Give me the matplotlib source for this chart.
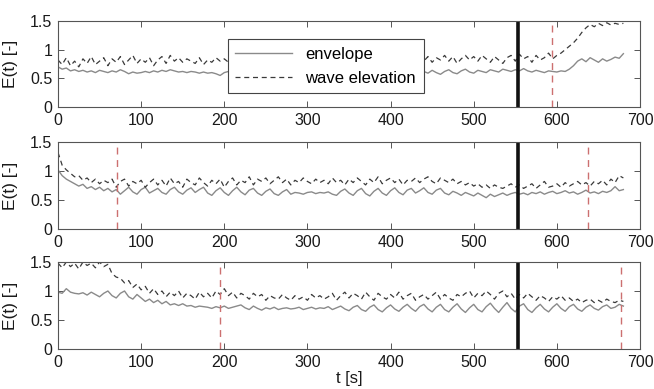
import numpy as np
import matplotlib
matplotlib.use("Agg")
import matplotlib.pyplot as plt

plt.rcParams['font.family'] = ['Liberation Sans', 'DejaVu Sans']

DT = 5

env1 = [0.70,0.66,0.68,0.63,0.65, 0.62,0.64,0.61,0.63,0.60, 0.64,0.62,0.60,0.63,0.61,
        0.65,0.62,0.58,0.61,0.59, 0.60,0.62,0.60,0.63,0.61, 0.64,0.62,0.65,0.63,0.61,
        0.62,0.60,0.62,0.61,0.59, 0.61,0.59,0.60,0.58,0.55, 0.60,0.62,0.60,0.61,0.59,
        0.62,0.60,0.63,0.61,0.60, 0.62,0.59,0.61,0.63,0.60, 0.61,0.62,0.59,0.61,0.60,
        0.62,0.60,0.63,0.61,0.59, 0.61,0.63,0.60,0.62,0.61, 0.59,0.62,0.60,0.63,0.61,
        0.60,0.62,0.59,0.61,0.63, 0.60,0.62,0.61,0.59,0.62, 0.64,0.60,0.66,0.62,0.59,
        0.64,0.60,0.57,0.62,0.65, 0.60,0.58,0.63,0.66,0.61, 0.59,0.64,0.62,0.60,0.65,
        0.63,0.61,0.66,0.64,0.62, 0.65,0.63,0.67,0.63,0.61, 0.64,0.62,0.60,0.63,0.62,
        0.61,0.63,0.62,0.66,0.72, 0.80,0.84,0.79,0.86,0.82, 0.78,0.84,0.80,0.83,0.87,
        0.85,0.93]
wave1 = [0.82,0.74,0.86,0.72,0.80, 0.70,0.84,0.76,0.88,0.74, 0.80,0.86,0.72,0.84,0.78,
         0.88,0.74,0.82,0.90,0.76, 0.84,0.78,0.86,0.72,0.82, 0.88,0.76,0.90,0.80,0.86,
         0.78,0.84,0.80,0.76,0.86, 0.74,0.82,0.78,0.86,0.80, 0.84,0.78,0.82,0.76,0.80,
         0.82,0.78,0.84,0.80,0.82, 0.80,0.84,0.78,0.82,0.80, 0.84,0.78,0.82,0.80,0.84,
         0.78,0.82,0.80,0.84,0.78, 0.82,0.80,0.84,0.78,0.82, 0.80,0.84,0.78,0.82,0.80,
         0.84,0.80,0.82,0.78,0.82, 0.80,0.84,0.78,0.82,0.80, 0.86,0.76,0.84,0.80,0.88,
         0.78,0.86,0.82,0.90,0.80, 0.88,0.76,0.84,0.90,0.82, 0.88,0.80,0.90,0.84,0.78,
         0.88,0.82,0.76,0.86,0.90, 0.80,0.92,0.84,0.88,0.78, 0.90,0.82,0.86,0.94,0.84,
         0.90,0.94,1.00,1.06,1.12, 1.20,1.30,1.38,1.44,1.40, 1.46,1.42,1.47,1.43,1.46,
         1.44,1.46]

env2 = [1.02,0.92,0.86,0.82,0.78, 0.74,0.77,0.70,0.73,0.68, 0.72,0.66,0.70,0.64,0.68,
        0.60,0.66,0.72,0.64,0.60, 0.68,0.72,0.62,0.66,0.70, 0.63,0.60,0.68,0.72,0.64,
        0.60,0.67,0.71,0.63,0.68, 0.72,0.62,0.58,0.66,0.71, 0.63,0.58,0.66,0.72,0.64,
        0.59,0.67,0.70,0.62,0.58, 0.65,0.69,0.61,0.58,0.64, 0.68,0.60,0.63,0.62,0.60,
        0.63,0.64,0.61,0.63,0.62, 0.64,0.60,0.58,0.65,0.69, 0.62,0.58,0.66,0.70,0.61,
        0.57,0.65,0.70,0.62,0.58, 0.66,0.71,0.63,0.59,0.67, 0.70,0.62,0.66,0.71,0.63,
        0.60,0.67,0.70,0.62,0.59, 0.65,0.62,0.58,0.63,0.60, 0.57,0.62,0.58,0.54,0.60,
        0.56,0.59,0.62,0.58,0.61, 0.63,0.60,0.62,0.59,0.63, 0.61,0.64,0.60,0.63,0.65,
        0.61,0.63,0.66,0.62,0.64, 0.60,0.63,0.67,0.62,0.64, 0.61,0.65,0.63,0.66,0.73,
        0.66,0.68]
wave2 = [1.32,1.10,1.02,0.96,0.90, 0.92,0.84,0.88,0.80,0.86, 0.78,0.84,0.80,0.86,0.72,
         0.82,0.86,0.74,0.82,0.78, 0.84,0.72,0.80,0.86,0.76, 0.84,0.74,0.88,0.78,0.82,
         0.72,0.86,0.80,0.76,0.88, 0.80,0.74,0.84,0.78,0.86, 0.72,0.82,0.88,0.76,0.84,
         0.80,0.90,0.76,0.86,0.82, 0.88,0.78,0.84,0.90,0.80, 0.86,0.76,0.84,0.80,0.88,
         0.82,0.78,0.86,0.80,0.84, 0.78,0.88,0.80,0.84,0.76, 0.86,0.80,0.88,0.82,0.76,
         0.86,0.80,0.90,0.78,0.84, 0.88,0.80,0.86,0.76,0.84, 0.82,0.88,0.80,0.86,0.90,
         0.82,0.78,0.88,0.84,0.80, 0.86,0.78,0.82,0.76,0.80, 0.74,0.78,0.72,0.76,0.70,
         0.76,0.72,0.70,0.74,0.78, 0.72,0.76,0.70,0.74,0.78, 0.70,0.76,0.82,0.72,0.74,
         0.78,0.72,0.80,0.74,0.78, 0.82,0.76,0.80,0.74,0.82, 0.78,0.84,0.76,0.86,0.80,
         0.92,0.88]

env3 = [0.98,0.96,1.04,0.98,0.96, 0.95,0.97,0.93,0.98,0.94, 0.90,0.96,1.00,0.92,0.88,
        0.96,1.00,0.90,0.86,0.94, 0.88,0.82,0.86,0.80,0.84, 0.78,0.82,0.76,0.78,0.75,
        0.78,0.74,0.75,0.72,0.74, 0.73,0.72,0.70,0.73,0.71, 0.74,0.70,0.72,0.74,0.76,
        0.71,0.68,0.74,0.70,0.67, 0.71,0.69,0.72,0.68,0.70, 0.71,0.69,0.70,0.72,0.68,
        0.70,0.72,0.69,0.71,0.70, 0.73,0.68,0.71,0.74,0.69, 0.66,0.72,0.75,0.68,0.65,
        0.72,0.76,0.68,0.64,0.71, 0.76,0.69,0.65,0.72,0.77, 0.70,0.65,0.73,0.77,0.69,
        0.64,0.72,0.77,0.68,0.64, 0.72,0.78,0.69,0.63,0.71, 0.77,0.68,0.64,0.73,0.79,
        0.70,0.63,0.72,0.80,0.70, 0.64,0.74,0.78,0.68,0.63, 0.71,0.77,0.69,0.64,0.72,
        0.78,0.70,0.65,0.73,0.77, 0.69,0.65,0.72,0.76,0.70, 0.67,0.73,0.76,0.70,0.72,
        0.77,0.74]
wave3 = [1.48,1.40,1.50,1.42,1.48, 1.38,1.50,1.44,1.48,1.40, 1.50,1.42,1.46,1.30,1.24,
         1.22,1.14,1.18,1.06,1.12, 1.02,1.08,0.96,1.04,0.94, 1.00,0.90,0.98,0.92,1.00,
         0.88,0.96,0.92,0.86,0.98, 0.90,0.96,0.88,1.00,0.94, 1.04,0.92,0.98,0.88,0.96,
         0.92,0.86,0.96,0.90,0.94, 0.84,0.92,0.88,0.86,0.94, 0.88,0.84,0.92,0.86,0.90,
         0.84,0.94,0.88,0.92,0.86, 0.90,0.96,0.84,0.92,0.98, 0.88,0.96,0.92,0.86,0.98,
         0.90,0.84,0.96,0.90,0.86, 0.94,0.88,0.98,0.86,0.92, 0.96,0.84,0.90,0.94,0.86,
         0.92,0.98,0.86,0.94,0.88, 0.84,0.94,0.90,0.96,1.00, 0.88,0.96,0.92,1.00,0.94,
         0.86,0.96,1.00,0.90,0.96, 0.86,0.94,0.88,0.96,0.90, 0.84,0.92,0.88,0.82,0.90,
         0.86,0.92,0.84,0.88,0.82, 0.86,0.80,0.84,0.86,0.80, 0.84,0.80,0.86,0.82,0.80,
         0.84,0.82]

black_marks = [553, 553, 553]
red_marks = [[594], [71, 638], [195, 677]]

xticks = [0, 100, 200, 300, 400, 500, 600, 700]
yticks = [0, 0.5, 1, 1.5]
ytick_labels = ['0', '0.5', '1', '1.5']

panels = [(env1, wave1), (env2, wave2), (env3, wave3)]

W, H = 654, 389
fig = plt.figure(figsize=(W / 100, H / 100), dpi=100)
left, right = 58 / W, 640 / W
tops = [21, 142, 262]
bots = [107, 229, 349]

axes = []
for i, (env, wav) in enumerate(panels):
    ax = fig.add_axes([left, 1 - bots[i] / H, right - left, (bots[i] - tops[i]) / H])
    axes.append(ax)
    te = np.arange(len(env)) * DT
    tw = np.arange(len(wav)) * DT
    l1, = ax.plot(te, env, color='#8a8a8a', lw=1.0, label='envelope')
    l2, = ax.plot(tw, wav, color='#3a3a3a', lw=0.9, ls=(0, (4, 3)), label='wave elevation')
    ax.axvline(black_marks[i], color='#111111', lw=2.6)
    for r in red_marks[i]:
        ax.axvline(r, color='#cc7070', lw=1.0, ls=(0, (5, 4)))
    ax.set_xlim(0, 700)
    ax.set_ylim(0, 1.5)
    ax.set_xticks(xticks)
    ax.set_yticks(yticks)
    ax.set_yticklabels(ytick_labels)
    ax.tick_params(direction='in', length=4, width=0.7, top=True, right=True,
                   labelsize=11.5, colors='#555555', labelcolor='#1a1a1a')
    ax.tick_params(axis='x', pad=4)
    ax.tick_params(axis='y', pad=4)
    for s in ax.spines.values():
        s.set_color('#555555')
        s.set_linewidth(0.8)
    ax.set_ylabel('E(t) [-]', fontsize=12.5, color='#1a1a1a')
    ax.yaxis.set_label_coords(-0.068, 0.5)
    if i == 0:
        leg = ax.legend(handles=[l1, l2], loc='upper left', bbox_to_anchor=(0.292, 0.79),
                        fontsize=12, frameon=True, fancybox=False, framealpha=1,
                        edgecolor='#444444', handlelength=3.4, borderpad=0.45,
                        labelspacing=0.55, handletextpad=0.8, borderaxespad=0)
        leg.get_frame().set_linewidth(0.8)

axes[-1].set_xlabel('t [s]', fontsize=12, color='#1a1a1a', labelpad=1)

fig.savefig('out.png', dpi=100, facecolor='white')
